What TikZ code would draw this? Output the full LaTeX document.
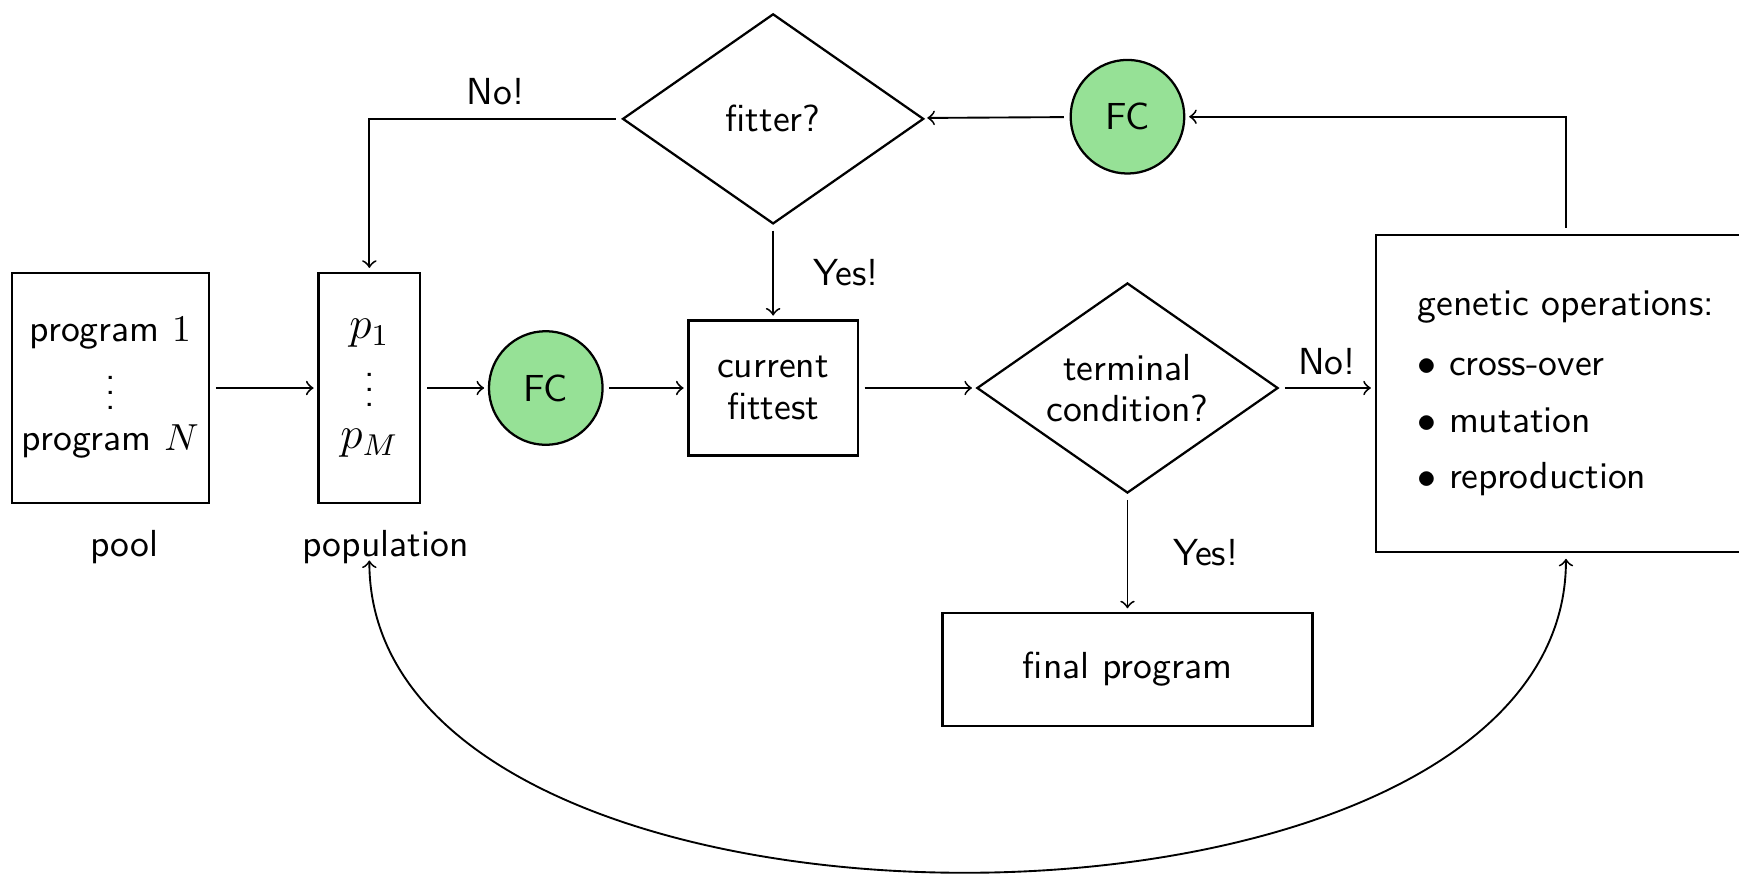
\documentclass[tikz,border=0pt]{standalone}
\usepackage{xcolor}
\usepackage{tikz}
\usetikzlibrary{shapes.geometric, arrows, positioning}
\definecolor{fcgreen}{RGB}{150,225,150}
\tikzstyle{box} = [rectangle, semithick, draw=black, align=center]
\tikzstyle{listbox} = [rectangle, semithick, draw=black, align=left]
\tikzstyle{decision} = [diamond, semithick, draw=black, align=center, inner sep=0pt, aspect=1.43, minimum width=2.81cm, minimum height=1.96cm]
\tikzstyle{fc} = [circle, semithick, draw=black, fill=fcgreen, minimum size=1.06cm, inner sep=0pt]
\tikzstyle{arrow} = [->, line width=0.5pt, shorten <=1.5pt, shorten >=1pt]

\begin{document}
\begin{tikzpicture}[font=\sffamily\fontsize{10}{11}\selectfont]
    \useasboundingbox (0,0) rectangle (16.225,-8.154);

    % Nodes
    \node (pool) [box, inner xsep=1pt, minimum width=1.84cm, minimum height=2.15cm] at (1.03,-3.62) {program $1$\\ $\vdots$\\ program $N$};
    \node (pop) [box, minimum width=0.95cm, minimum height=2.15cm, right=1.0cm of pool] {{\large $p_1$}\\ $\vdots$\\ {\large $p_M$}};
    \node (fc1) [fc, right=0.62cm of pop] {FC};
    \node (current) [box, minimum width=1.58cm, minimum height=1.26cm, right=0.78cm of fc1] {current\\fittest};
    \node (terminal) [decision, right=1.09cm of current] {terminal\\condition?};
    \node (gen) [listbox, minimum width=3.55cm, minimum height=2.96cm, right=0.89cm of terminal, yshift=-0.05cm] {genetic operations:\\[5pt] $\bullet$ cross-over\\[4pt] $\bullet$ mutation\\[4pt] $\bullet$ reproduction};
    \node (final) [box, minimum width=3.45cm, minimum height=1.05cm, below=1.1cm of terminal] {final program};
    \node (fitter) [decision, above=0.88cm of current] {fitter?};
    \node (fc2) [fc, above=1.0cm of terminal] {FC};
    \node (poollbl) [below=0.12cm of pool, xshift=0.13cm] {pool};
    \node (poplbl) [below=0.12cm of pop, xshift=0.15cm] {population};

    % Arrows
    \draw [arrow] (pool) -- (pop);
    \draw [arrow] (pop) -- (fc1);
    \draw [arrow] (fc1) -- (current);
    \draw [arrow] (current) -- (terminal);
    \draw [arrow] (terminal.east) -- (terminal.east -| gen.west) node[midway, above] {No!};
    \draw [arrow] (terminal) -- (final) node[midway, right=0.3cm] {Yes!};
    \draw [arrow] (fitter) -- (current) node[midway, right=0.25cm] {Yes!};
    \draw [arrow] (fc2) -- (fitter);
    \draw [arrow] (fitter.west) -| (pop.north) node[pos=0.25, above] {No!};
    \draw [arrow] (gen.north) |- (fc2.east);
    \draw [arrow, <->] (gen.south) to[out=-90, in=-90, looseness=0.9] (pop.south |- poplbl.base);

\end{tikzpicture}
\end{document}
